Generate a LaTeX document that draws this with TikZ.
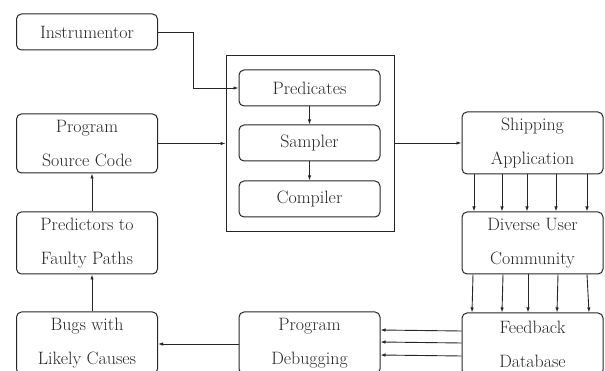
\documentclass[tikz,border=0pt]{standalone}
\usetikzlibrary{arrows.meta,calc}
\definecolor{ink}{HTML}{262626}
\begin{document}
\begin{tikzpicture}[x=1pt,y=-1pt,
  box/.style={draw=ink,line width=1pt,rounded corners=5pt,text=ink,align=center,
    font=\fontsize{17.9}{34}\selectfont,inner sep=0pt,minimum width=141pt},
  outer/.style={draw=ink,line width=0.9pt,inner sep=0pt},
  arr/.style={draw=ink,line width=0.9pt,-{Latex[length=5pt,width=3.5pt]}}]
\useasboundingbox (0,0) rectangle (605,371);
\clip (0,0) rectangle (605,371);
\node[box,minimum height=36pt] (ins) at (87,32) {Instrumentor};
\node[box,minimum height=59pt] (src) at (87,143.5) {Program\\Source Code};
\node[box,minimum height=62pt] (pfp) at (87,243) {Predictors to\\Faulty Paths};
\node[box,minimum height=62pt] (bugs) at (87,343) {Bugs with\\Likely Causes};
\node[box,minimum height=62pt] (dbg) at (309.5,343) {Program\\Debugging};
\node[box,minimum height=62pt] (ship) at (532.5,143) {Shipping\\Application};
\node[box,minimum height=62pt] (dus) at (532.5,243) {Diverse User\\Community};
\node[box,minimum height=62pt] (fb) at (532.5,344) {Feedback\\Database};
\node[outer,minimum width=168pt,minimum height=176pt] (big) at (310,143) {};
\node[box,minimum height=36pt] (preds) at (309.5,88) {Predicates};
\node[box,minimum height=36pt] (samp) at (309.5,143) {Sampler};
\node[box,minimum height=36pt] (comp) at (309.5,199) {Compiler};
\draw[arr] (ins.east) -- ++(35,0) |- (preds.west);
\draw[arr] (preds.south) -- (samp.north);
\draw[arr] (samp.south) -- (comp.north);
\draw[arr] (src.east) -- (big.west |- src.east);
\draw[arr] (big.east |- ship.west) -- (ship.west);
\foreach \d in {-58.5,-30.5,-5.5,23.5,54.5}
  \draw[arr] ([xshift=\d pt]ship.south) -- ([xshift=\d pt]dus.north);
\draw[arr] ([xshift=-59.5pt]dus.south) -- ([xshift=-60.5pt]fb.north);
\draw[arr] ([xshift=-29.5pt]dus.south) -- ([xshift=-30.5pt]fb.north);
\draw[arr] ([xshift=-4.5pt]dus.south) -- ([xshift=-4.5pt]fb.north);
\draw[arr] ([xshift=25.5pt]dus.south) -- ([xshift=24.5pt]fb.north);
\draw[arr] ([xshift=54.5pt]dus.south) -- ([xshift=56.5pt]fb.north);
\foreach \d in {13,1,-12}
  \draw[arr] ([yshift=\d pt]fb.west) -- ([yshift=\d pt]dbg.east);
\draw[arr] ([yshift=-1pt]dbg.west) -- ([yshift=-1pt]bugs.east);
\draw[arr] ([xshift=5pt]bugs.north) -- ([xshift=5pt]pfp.south);
\draw[arr] ([xshift=5pt]pfp.north) -- ([xshift=5pt]src.south);
\end{tikzpicture}
\end{document}
